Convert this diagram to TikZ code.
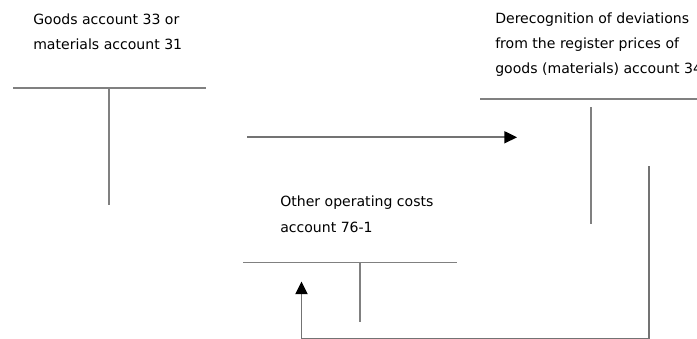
\documentclass[tikz,border=0pt]{standalone}
\usepackage{fontspec}
\setmainfont{DejaVu Sans}
\usetikzlibrary{arrows.meta}
\tikzset{
  acct/.style={draw=black!50, line width=1.4pt},
  lbl/.style={anchor=north west, inner sep=0pt, align=left,
    font=\fontsize{10}{17.8}\selectfont},
  flow/.style={draw=black!55, line width=1.4pt,
    -{Triangle[length=9pt,width=8.5pt,color=black]}}
}
\begin{document}
\begin{tikzpicture}[x=0.025cm,y=-0.025cm]
\useasboundingbox (0,0) rectangle (697,338);

% goods / materials account
\node[lbl] (goodsLbl) at (33,13.3) {Goods account 33 or\\materials account 31};
\coordinate (goodsL) at (13,88);
\coordinate (goodsR) at (206,88);
\coordinate (goodsT) at (109,88);
\coordinate (goodsB) at (109,205);
\draw[acct] (goodsL) -- (goodsR);
\draw[acct] (goodsT) -- (goodsB);

% derecognition of deviations
\node[lbl] (devLbl) at (495,12.3) {Derecognition of deviations\\from the register prices of\\goods (materials) account 34};
\coordinate (devL) at (480,99);
\coordinate (devR) at (697,99);
\coordinate (devT) at (591,107);
\coordinate (devB) at (591,224);
\draw[acct] (devL) -- (devR);
\draw[acct] (devT) -- (devB);

% other operating costs
\node[lbl] (costLbl) at (280,196) {Other operating costs\\account 76-1};
\coordinate (costL) at (243,262.5);
\coordinate (costR) at (457,262.5);
\coordinate (costT) at (360,262.5);
\coordinate (costB) at (360,322);
\draw[acct] (costL) -- (costR);
\draw[acct] (costT) -- (costB);

% flows
\coordinate (goodsOut) at (247,137.3);
\coordinate (devIn) at (517,137.3);
\draw[flow] (goodsOut) -- (devIn);

\coordinate (devOut) at (649,166);
\coordinate (costIn) at (301.5,281.5);
\draw[flow] (devOut) |- (301.5,339.3) -- (costIn);
\end{tikzpicture}
\end{document}
